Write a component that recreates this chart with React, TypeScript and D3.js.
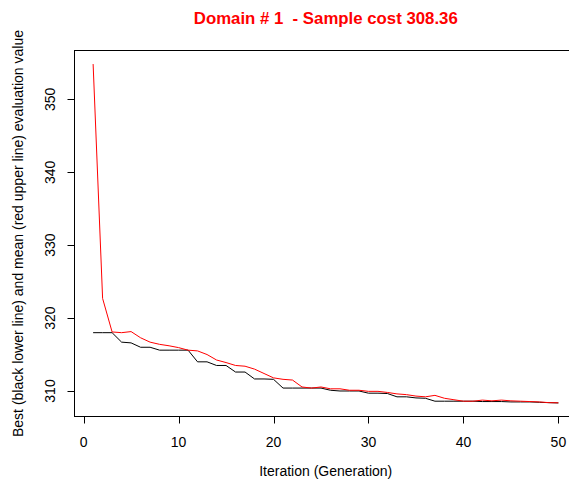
import * as React from 'react';
import * as d3 from 'd3';

const iterations = [
  1, 2, 3, 4, 5, 6, 7, 8, 9, 10, 11, 12, 13, 14, 15, 16, 17, 18, 19, 20, 21, 22, 23, 24, 25,
  26, 27, 28, 29, 30, 31, 32, 33, 34, 35, 36, 37, 38, 39, 40, 41, 42, 43, 44, 45, 46, 47, 48, 49, 50,
];

// best value per generation (black lower line)
const best = [
  318.0, 318.0, 318.0, 316.7, 316.6, 316.0, 316.0, 315.6, 315.6, 315.6,
  315.6, 314.0, 314.0, 313.5, 313.5, 312.6, 312.6, 311.65, 311.65, 311.6,
  310.4, 310.4, 310.4, 310.4, 310.4, 310.1, 310.0, 310.0, 310.0, 309.7,
  309.7, 309.65, 309.2, 309.2, 309.05, 309.0, 308.6, 308.6, 308.6, 308.6,
  308.6, 308.55, 308.55, 308.55, 308.5, 308.5, 308.5, 308.45, 308.4, 308.36,
];

// mean value per generation (red upper line)
const mean = [
  354.85, 322.7, 318.1, 318.0, 318.15, 317.3, 316.7, 316.4, 316.2, 315.95,
  315.6, 315.5, 315.0, 314.25, 313.9, 313.5, 313.4, 313.0, 312.4, 311.8,
  311.6, 311.5, 310.55, 310.4, 310.55, 310.3, 310.3, 310.1, 310.1, 309.95,
  309.95, 309.8, 309.6, 309.5, 309.3, 309.2, 309.4, 309.0, 308.8, 308.6,
  308.6, 308.75, 308.65, 308.75, 308.65, 308.6, 308.55, 308.5, 308.4, 308.38,
];

const xTicks = [0, 10, 20, 30, 40, 50];
const yTicks = [310, 320, 330, 340, 350];
const title = 'Domain # 1  - Sample cost 308.36';
const xLabel = 'Iteration (Generation)';
const yLabel = 'Best (black lower line) and mean (red upper line) evaluation value';

const width = 569;
const height = 483;
const marginLeft = 74.5;
const marginTop = 50.5;
const plotBottom = 416.5;
const plotRight = 577;
const font = 'Liberation Sans, Arial, sans-serif';

const App: React.FC = () => {
  const allValues = best.concat(mean);
  const xPad = (d3.max(iterations)! - d3.min(iterations)!) * 0.04;
  const [yMin, yMax] = d3.extent(allValues) as [number, number];
  const yPad = (yMax - yMin) * 0.04;

  const x = d3.scaleLinear()
    .domain([d3.min(iterations)! - xPad, d3.max(iterations)! + xPad])
    .range([marginLeft, plotRight]);
  const y = d3.scaleLinear()
    .domain([yMin - yPad, yMax + yPad])
    .range([plotBottom, marginTop]);

  const line = d3.line<number>().x((d, i) => x(iterations[i])).y((d) => y(d));

  return (
    <svg width={width} height={height} style={{ position: 'absolute', left: 0, top: 0, background: '#fff' }}>
      <text x={(marginLeft + plotRight) / 2} y={24} textAnchor="middle" fill="#ff0000"
        fontFamily={font} fontWeight="bold" fontSize={16.8} style={{ whiteSpace: 'pre' }}>
        {title}
      </text>

      <rect x={marginLeft} y={marginTop} width={plotRight - marginLeft} height={plotBottom - marginTop}
        fill="none" stroke="#000" strokeWidth={1} />

      <path d={line(best) || ''} fill="none" stroke="#000" strokeWidth={1} />
      <path d={line(mean) || ''} fill="none" stroke="#ff0000" strokeWidth={1} />

      <g fontFamily={font} fontSize={14} fill="#000">
        {xTicks.map((t) => (
          <g key={t}>
            <line x1={Math.round(x(t)) + 0.5} x2={Math.round(x(t)) + 0.5} y1={plotBottom} y2={plotBottom + 7} stroke="#000" />
            <text x={x(t)} y={446.5} textAnchor="middle">{t}</text>
          </g>
        ))}
        {yTicks.map((t) => (
          <g key={t}>
            <line x1={marginLeft - 7} x2={marginLeft} y1={Math.round(y(t)) + 0.5} y2={Math.round(y(t)) + 0.5} stroke="#000" />
            <text transform={`translate(55,${y(t)}) rotate(-90)`} textAnchor="middle">{t}</text>
          </g>
        ))}
        <text x={(marginLeft + plotRight) / 2} y={476} textAnchor="middle">{xLabel}</text>
        <text transform={`translate(22.5,${(marginTop + plotBottom) / 2}) rotate(-90)`} textAnchor="middle">{yLabel}</text>
      </g>
    </svg>
  );
};

export default App;
